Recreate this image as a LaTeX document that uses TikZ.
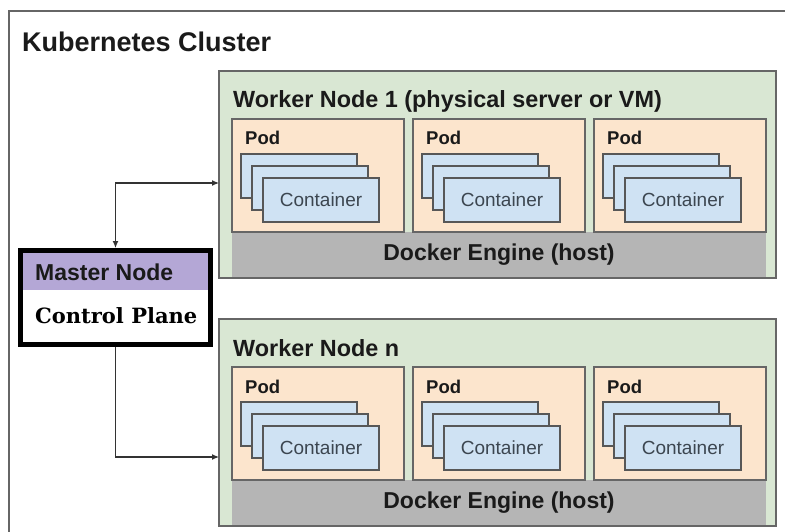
\documentclass[tikz,border=0pt]{standalone}
\usepackage{fontspec}
\setsansfont{Liberation Sans}
\newfontfamily\cpfont{DejaVu Serif}
\usetikzlibrary{arrows.meta}
\definecolor{wgreen}{HTML}{D9E7D3}
\definecolor{podfill}{HTML}{FCE5CD}
\definecolor{contfill}{HTML}{CFE2F3}
\definecolor{dockgray}{HTML}{B5B5B5}
\definecolor{mpurple}{HTML}{B4A7D6}
\definecolor{edgec}{HTML}{666666}
\definecolor{txt}{HTML}{1A1A1A}
\definecolor{ctxt}{HTML}{3C4650}
\definecolor{connc}{HTML}{333333}
\begin{document}
\begin{tikzpicture}[x=1pt,y=-1pt,
  box/.style={anchor=north west, inner sep=0pt, outer sep=0pt, line width=1.3pt},
  worker/.style={box, draw=edgec, fill=wgreen, minimum width=557pt, minimum height=207pt},
  podbox/.style={box, draw=edgec, fill=podfill, minimum width=172pt, minimum height=113pt},
  contbox/.style={box, draw=edgec!85!black, fill=contfill, minimum width=116pt, minimum height=44pt},
  dock/.style={box, fill=dockgray, minimum width=534pt, minimum height=45pt},
  titletext/.style={anchor=base west, inner sep=0pt, text=txt, font=\sffamily\bfseries\fontsize{23.4}{26}\selectfont},
  podtext/.style={anchor=base west, inner sep=0pt, text=txt, font=\sffamily\bfseries\fontsize{18.5}{21}\selectfont},
  conttext/.style={inner sep=0pt, text=ctxt, font=\sffamily\fontsize{19}{22}\selectfont},
  docktext/.style={inner sep=0pt, text=txt, font=\sffamily\bfseries\fontsize{23}{26}\selectfont},
  conn/.style={draw=connc, line width=1.2pt, arrows={-Latex[length=7pt,width=6pt]}},
  connboth/.style={draw=connc, line width=1.2pt, arrows={Latex[length=7pt,width=6pt]-Latex[length=7pt,width=6pt]}}
]
\clip (0,0) rectangle (785,532);
\fill[white] (0,0) rectangle (785,532);
% cluster
\draw[edgec, line width=1.5pt] (9,11) rectangle (810,560);
\node[anchor=base west, inner sep=0pt, text=txt, font=\sffamily\bfseries\fontsize{27}{30}\selectfont] (ktitle) at (22,52) {Kubernetes Cluster};

% workers
\foreach \w/\T/\lab in {w1/71/{Worker Node 1 (physical server or VM)}, wn/319/{Worker Node n}} {
  \node[worker] (\w) at (219,\T) {};
  \node[titletext] (\w title) at (233,\T+37) {\lab};
  \node[dock] (\w dock) at (232,\T+161) {};
  \node[docktext] (\w docklab) at (\w dock.center) {Docker Engine (host)};
  \foreach \p/\px in {1/232, 2/413, 3/594} {
    \node[podbox] (\w pod\p) at (\px,\T+48) {};
    \node[podtext] (\w pod\p lab) at (\px+13,\T+74) {Pod};
    \node[contbox] (\w pod\p c1) at (\px+9,\T+83) {};
    \node[contbox] (\w pod\p c2) at (\px+20,\T+95) {};
    \node[contbox] (\w pod\p c3) at (\px+31,\T+107) {};
    \node[conttext] (\w pod\p ct) at (\w pod\p c3.center) {Container};
  }
}

% master node
\node[anchor=north west, draw=black, line width=5pt, inner sep=0pt, outer sep=2.5pt,
      minimum width=190pt, minimum height=94pt, fill=white] (master) at (18,248) {};
\node[anchor=north west, inner sep=0pt, fill=mpurple, minimum width=185pt, minimum height=37pt] (band) at (23,253) {};
\node[anchor=west, inner sep=0pt, text=txt, font=\sffamily\bfseries\fontsize{23}{26}\selectfont] (mlab) at (35,272) {Master Node};
\node[anchor=west, inner sep=0pt, text=black, font=\cpfont\bfseries\fontsize{21}{24}\selectfont] (cplab) at (35,316) {Control Plane};

% connectors
\draw[connboth] (master.north) |- (w1.west |- 0,183);
\draw[conn] (master.south) |- (wn.west |- 0,457);
\end{tikzpicture}
\end{document}
